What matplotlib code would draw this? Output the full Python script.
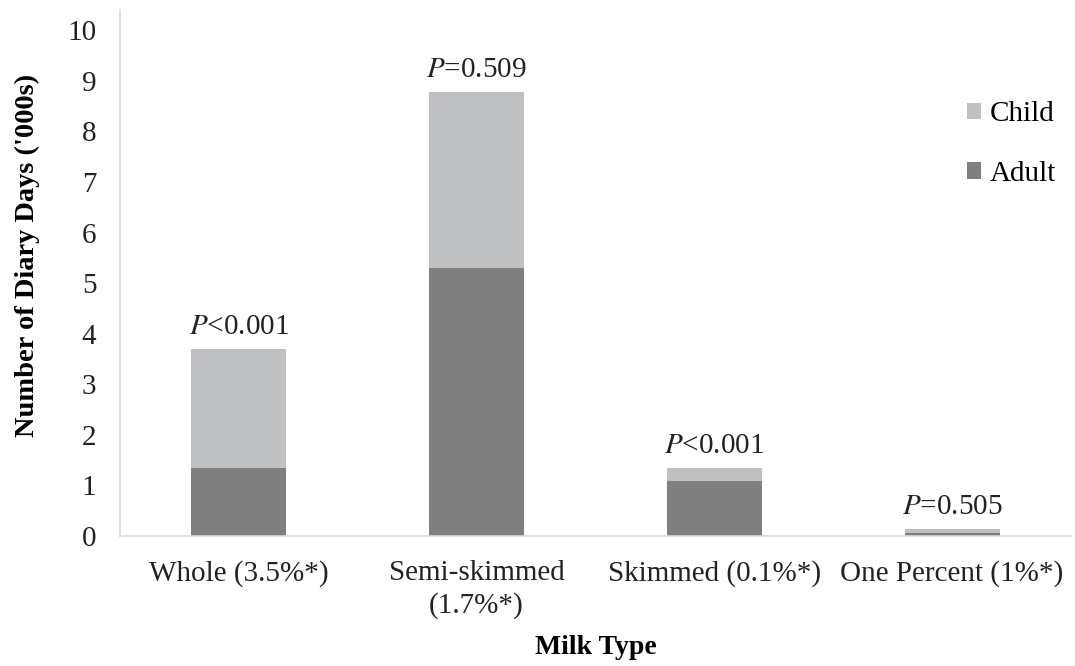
import matplotlib.pyplot as plt
import numpy as np

# Values in thousands of diary days
milk_types = ["Whole (3.5%*)", "Semi-skimmed\n(1.7%*)", "Skimmed (0.1%*)", "One Percent (1%*)"]
adult = [1.35, 5.30, 1.09, 0.06]
child = [2.34, 3.47, 0.25, 0.07]
p_labels = [r"$P$<0.001", r"$P$=0.509", r"$P$<0.001", r"$P$=0.505"]

plt.rcParams['font.family'] = ['Liberation Serif', 'DejaVu Serif']
plt.rcParams['mathtext.fontset'] = 'stix'

fig = plt.figure(figsize=(10.75, 6.66), dpi=100)
ax = fig.add_axes([120 / 1075, 130 / 666, 951 / 1075, 526 / 666])

x = np.arange(len(milk_types))
width = 0.4
ax.bar(x, adult, width, color='#7f7f80', label='Adult')
ax.bar(x, child, width, bottom=adult, color='#bfc0c2', label='Child')

totals = [a + c for a, c in zip(adult, child)]
for xi, tot, lab in zip(x, totals, p_labels):
    ax.annotate(lab, (xi, tot), xytext=(0, 7), textcoords='offset points',
                ha='center', va='bottom', fontsize=21, color='#222222')

ax.set_xlim(-0.5, 3.5)
ax.set_ylim(0, 10.4)
ax.set_yticks(range(0, 11))
ax.set_xticks(x)
ax.set_xticklabels(milk_types, linespacing=1.3)
ax.tick_params(axis='both', length=0, labelsize=21, colors='#222222')
ax.tick_params(axis='y', pad=17)
ax.tick_params(axis='x', pad=17)

for s in ['top', 'right']:
    ax.spines[s].set_visible(False)
for s in ['left', 'bottom']:
    ax.spines[s].set_color('#d9d9d9')
    ax.spines[s].set_linewidth(1.2)

ax.set_xlabel("Milk Type", fontsize=20, fontweight='bold', labelpad=12)
ax.set_ylabel("Number of Diary Days ('000s)", fontsize=20.5, fontweight='bold')
ax.yaxis.set_label_coords(-0.084, 0.534)

handles, labels = ax.get_legend_handles_labels()
ax.legend(handles[::-1], labels[::-1], loc='center left', bbox_to_anchor=(0.875, 0.745),
          frameon=False, fontsize=21, handlelength=0.5, handleheight=0.5,
          handletextpad=0.3, labelspacing=1.15, borderpad=0)

plt.savefig("out.png", dpi=100)
